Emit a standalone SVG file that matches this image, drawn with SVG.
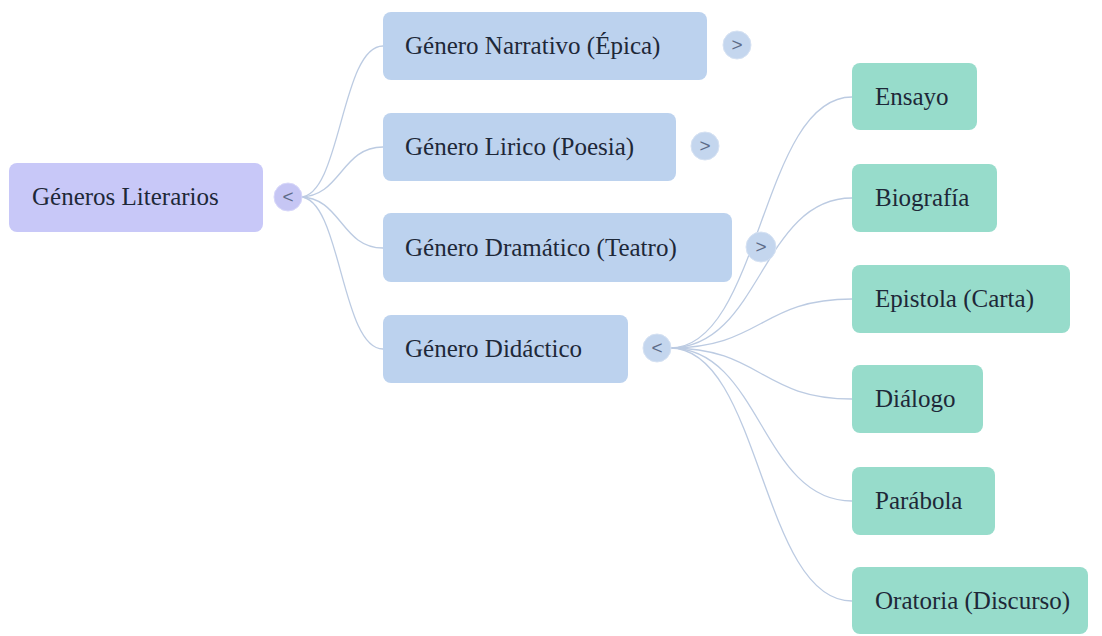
<svg xmlns="http://www.w3.org/2000/svg" width="1102" height="636" viewBox="0 0 1102 636">
<style>
.t{font-size:25px;fill:#1e2838}
.r{fill:#c8c8f8}
.b{fill:#bcd2ee}
.g{fill:#97dccb}
.cb{fill:#c4d6ee;stroke:#d6e2f3;stroke-width:1}
.cr{fill:#c6c6f4;stroke:#d8d8fa;stroke-width:1}
.s{font-size:19px;fill:#5d6b88;text-anchor:middle}
.c{fill:none;stroke:#bccbe2;stroke-width:1.3}
</style>
<g id="connectors">
<path class="c" d="M300 197 C341 197 341 46 383 46"/>
<path class="c" d="M300 197 C341 197 341 147 383 147"/>
<path class="c" d="M300 197 C341 197 341 248 383 248"/>
<path class="c" d="M300 197 C341 197 341 349 383 349"/>
<path class="c" d="M670 348 C761 348 761 97 852 97"/>
<path class="c" d="M670 348 C761 348 761 198 852 198"/>
<path class="c" d="M670 348 C761 348 761 299 852 299"/>
<path class="c" d="M670 348 C761 348 761 399 852 399"/>
<path class="c" d="M670 348 C761 348 761 501 852 501"/>
<path class="c" d="M670 348 C761 348 761 601 852 601"/>
</g>
<g id="root">
<rect class="r" x="9" y="163" width="254" height="69" rx="8"/>
<text class="t" x="32" y="205" font-family="Times New Roman, Liberation Serif, serif">Géneros Literarios</text>
<circle class="cr" cx="288" cy="197" r="14"/>
<text class="s" x="288" y="203" font-family="Liberation Sans, sans-serif">&lt;</text>
</g>
<g id="narrativo">
<rect class="b" x="383" y="12" width="324" height="68" rx="8"/>
<text class="t" x="405" y="54" font-family="Times New Roman, Liberation Serif, serif">Género Narrativo (Épica)</text>
<circle class="cb" cx="737" cy="45" r="14"/>
<text class="s" x="737" y="51" font-family="Liberation Sans, sans-serif">&gt;</text>
</g>
<g id="lirico">
<rect class="b" x="383" y="113" width="293" height="68" rx="8"/>
<text class="t" x="405" y="155" font-family="Times New Roman, Liberation Serif, serif">Género Lirico (Poesia)</text>
<circle class="cb" cx="705" cy="146" r="14"/>
<text class="s" x="705" y="152" font-family="Liberation Sans, sans-serif">&gt;</text>
</g>
<g id="dramatico">
<rect class="b" x="383" y="213" width="349" height="69" rx="8"/>
<text class="t" x="405" y="256" font-family="Times New Roman, Liberation Serif, serif">Género Dramático (Teatro)</text>
<circle class="cb" cx="761" cy="247" r="15"/>
<text class="s" x="761" y="253" font-family="Liberation Sans, sans-serif">&gt;</text>
</g>
<g id="didactico">
<rect class="b" x="383" y="315" width="245" height="68" rx="8"/>
<text class="t" x="405" y="357" font-family="Times New Roman, Liberation Serif, serif">Género Didáctico</text>
<circle class="cb" cx="657" cy="348" r="14"/>
<text class="s" x="657" y="354" font-family="Liberation Sans, sans-serif">&lt;</text>
</g>
<g id="ensayo">
<rect class="g" x="852" y="63" width="125" height="67" rx="8"/>
<text class="t" x="875" y="105" font-family="Times New Roman, Liberation Serif, serif">Ensayo</text>
</g>
<g id="biografia">
<rect class="g" x="852" y="164" width="145" height="68" rx="8"/>
<text class="t" x="875" y="206" font-family="Times New Roman, Liberation Serif, serif">Biografía</text>
</g>
<g id="epistola">
<rect class="g" x="852" y="265" width="218" height="68" rx="8"/>
<text class="t" x="875" y="307" font-family="Times New Roman, Liberation Serif, serif">Epistola (Carta)</text>
</g>
<g id="dialogo">
<rect class="g" x="852" y="365" width="131" height="68" rx="8"/>
<text class="t" x="875" y="407" font-family="Times New Roman, Liberation Serif, serif">Diálogo</text>
</g>
<g id="parabola">
<rect class="g" x="852" y="467" width="143" height="68" rx="8"/>
<text class="t" x="875" y="509" font-family="Times New Roman, Liberation Serif, serif">Parábola</text>
</g>
<g id="oratoria">
<rect class="g" x="852" y="567" width="236" height="67" rx="8"/>
<text class="t" x="875" y="609" font-family="Times New Roman, Liberation Serif, serif">Oratoria (Discurso)</text>
</g>
</svg>
